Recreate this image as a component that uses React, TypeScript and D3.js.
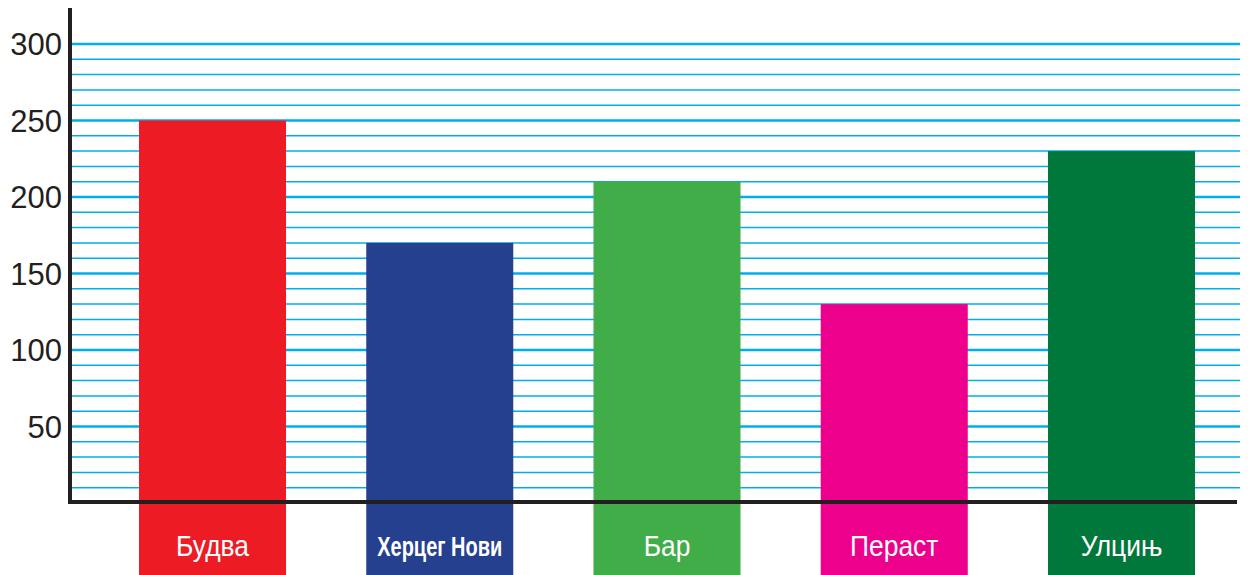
import React from "react";
import * as d3 from "d3";

const categories = ["Будва", "Херцег Нови", "Бар", "Пераст", "Улцињ"];
const values = [250, 170, 210, 130, 230];
const colors = ["#ED1C24", "#25408F", "#41AD49", "#EC008C", "#00783C"];
const boldLabel = [false, true, false, false, false];
const tickLabels = [50, 100, 150, 200, 250, 300];

const W = 1248;
const H = 575;

export default function App() {
  const y = d3.scaleLinear().domain([0, 300]).range([503, 44]);
  const x = d3
    .scaleBand<string>()
    .domain(categories)
    .range([139, 1195])
    .paddingInner(0.353)
    .paddingOuter(0);
  const gridVals = d3.range(10, 301, 10);
  const font = "'Liberation Sans', Arial, sans-serif";

  return (
    <svg
      width={W}
      height={H}
      style={{ position: "absolute", left: 0, top: 0, background: "#fff" }}
    >
      {gridVals.map((v) => (
        <line
          key={v}
          x1={72}
          x2={1240}
          y1={y(v)}
          y2={y(v)}
          stroke="#00AEEF"
          strokeWidth={v % 50 === 0 ? 2.6 : 1.5}
        />
      ))}
      {categories.map((c, i) => (
        <rect
          key={c}
          x={x(c)}
          y={y(values[i])}
          width={x.bandwidth()}
          height={H - y(values[i])}
          fill={colors[i]}
        />
      ))}
      {categories.map((c, i) => (
        <g
          key={"l" + c}
          transform={`translate(${(x(c) as number) + x.bandwidth() / 2},556) scale(${boldLabel[i] ? 0.74 : 0.88},1)`}
        >
          <text
            x={0}
            y={0}
            textAnchor="middle"
            fill="#fff"
            fontFamily={font}
            fontSize={boldLabel[i] ? 27 : 30}
            fontWeight={boldLabel[i] ? 700 : 400}
          >
            {c}
          </text>
        </g>
      ))}
      {tickLabels.map((t) => (
        <text
          key={t}
          x={62}
          y={y(t)}
          dy="0.36em"
          textAnchor="end"
          fill="#231F20"
          fontFamily={font}
          fontSize={31}
        >
          {t}
        </text>
      ))}
      <line x1={70} x2={70} y1={8} y2={504} stroke="#231F20" strokeWidth={4} />
      <line x1={68} x2={1237} y1={502} y2={502} stroke="#231F20" strokeWidth={4} />
    </svg>
  );
}
